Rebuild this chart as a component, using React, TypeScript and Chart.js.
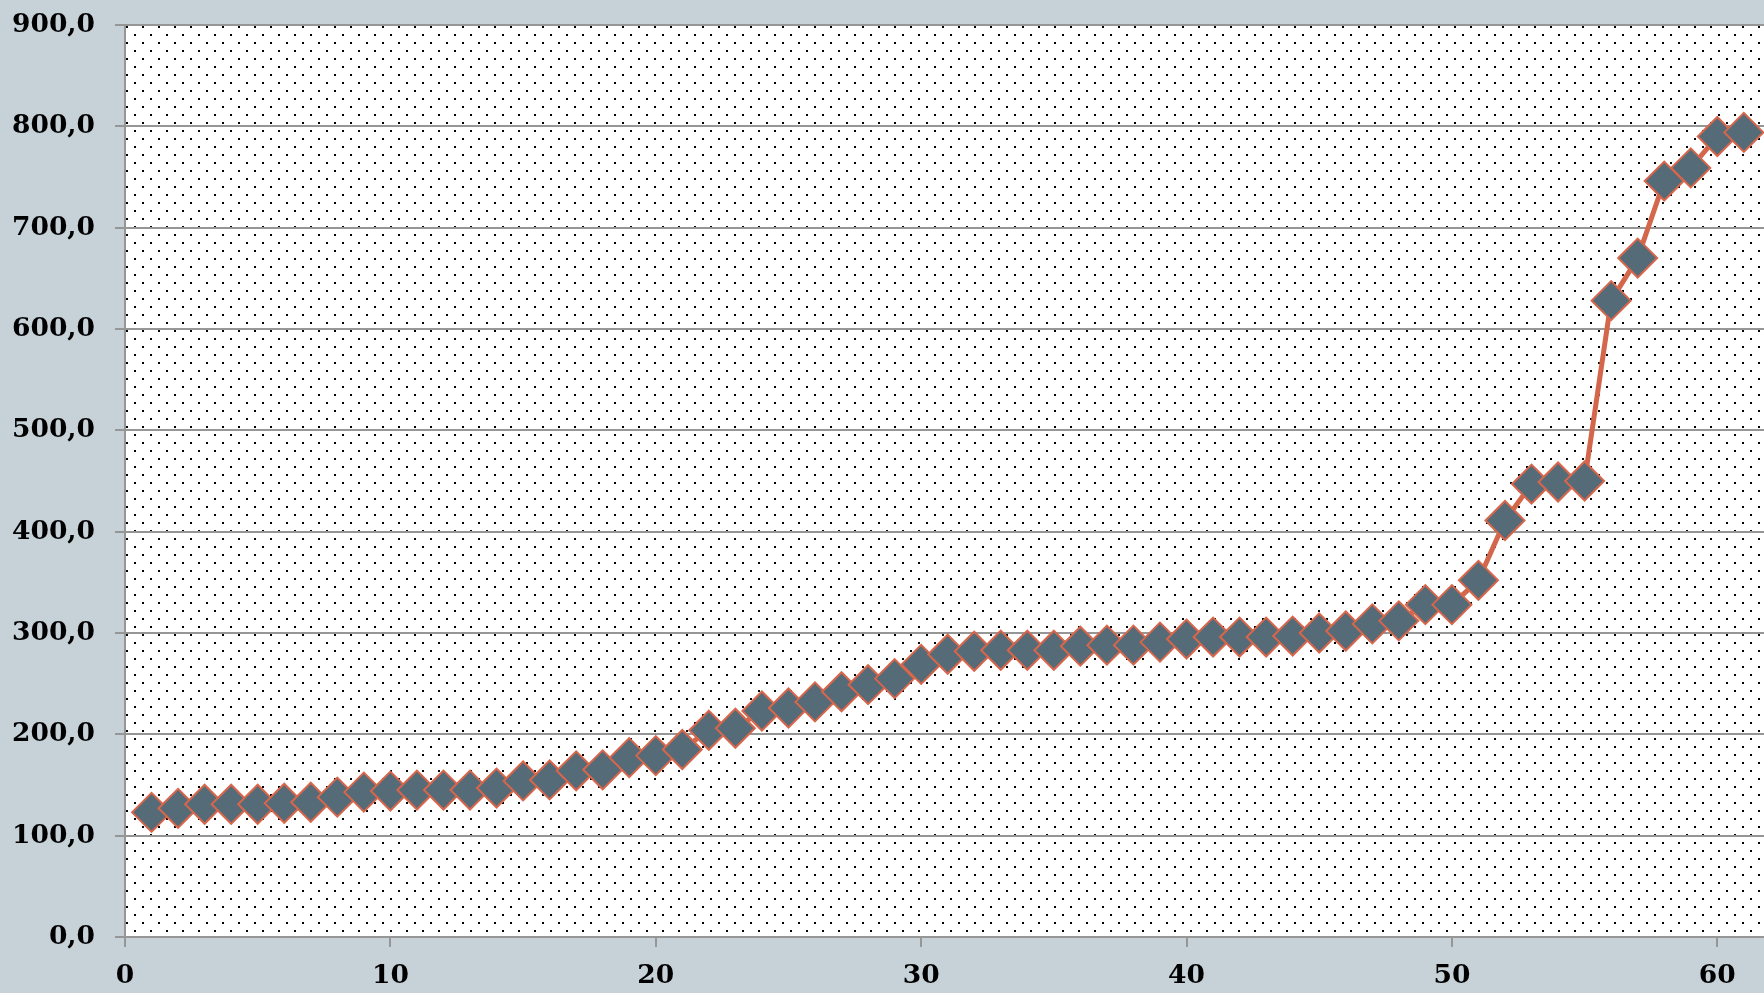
import React, { useEffect, useRef } from "react";
import { Chart, registerables } from "chart.js";

Chart.register(...registerables);

const xValues: number[] = [
  1, 2, 3, 4, 5, 6, 7, 8, 9, 10, 11, 12, 13, 14, 15, 16, 17, 18, 19, 20,
  21, 22, 23, 24, 25, 26, 27, 28, 29, 30, 31, 32, 33, 34, 35, 36, 37, 38, 39, 40,
  41, 42, 43, 44, 45, 46, 47, 48, 49, 50, 51, 52, 53, 54, 55, 56, 57, 58, 59, 60, 61,
];

const yValues: number[] = [
  123, 127, 131, 131, 131, 132, 133, 138, 143, 144, 145, 145, 145, 147, 154, 155, 164, 165, 177, 179,
  185, 204, 206, 223, 226, 232, 242, 249, 255, 269, 279, 282, 283, 283, 283, 287, 288, 288, 291, 294,
  296, 296, 296, 297, 300, 302, 309, 312, 328, 328, 352, 411, 447, 449, 450, 628, 670, 746, 759, 790, 794,
];

const xTickValues: number[] = [0, 10, 20, 30, 40, 50, 60];
const yMin = 0;
const yMax = 900;
const yStep = 100;
const xMin = 0;
const xMax = 61.76;

const BG = "#c6d1d8";
const GRID = "#969696";

function makePattern(ctx: CanvasRenderingContext2D): CanvasPattern | string {
  const c = document.createElement("canvas");
  c.width = 16;
  c.height = 16;
  const p = c.getContext("2d");
  if (!p) return "#ffffff";
  p.fillStyle = "#ffffff";
  p.fillRect(0, 0, 16, 16);
  p.fillStyle = "#000000";
  p.fillRect(6, 2, 2, 2);
  p.fillRect(14, 10, 2, 2);
  return ctx.createPattern(c, "repeat") || "#ffffff";
}

const bgPlugin = {
  id: "bgPlugin",
  beforeDraw(chart: any) {
    const { ctx, chartArea, width, height } = chart;
    ctx.save();
    ctx.fillStyle = BG;
    ctx.fillRect(0, 0, width, height);
    ctx.fillStyle = makePattern(ctx);
    ctx.fillRect(
      chartArea.left,
      chartArea.top,
      chartArea.right - chartArea.left,
      chartArea.bottom - chartArea.top
    );
    ctx.restore();
  },
};

export default function App() {
  const ref = useRef<HTMLCanvasElement | null>(null);

  useEffect(() => {
    if (!ref.current) return;
    const font = { family: "'DejaVu Serif', serif", size: 26.5, weight: "bold" as const };
    const chart = new Chart(ref.current, {
      type: "line",
      data: {
        datasets: [
          {
            data: xValues.map((x, i) => ({ x, y: yValues[i] })),
            borderColor: "#d4664b",
            borderWidth: 5,
            pointStyle: "rectRot",
            pointRadius: 19.5,
            pointBackgroundColor: "#556b78",
            pointBorderColor: "#d8664b",
            pointBorderWidth: 2,
            tension: 0,
            clip: false,
          },
        ],
      },
      options: {
        responsive: false,
        animation: false,
        layout: { autoPadding: false, padding: { top: 25, left: 0, right: 0, bottom: 0 } },
        plugins: {
          legend: { display: false },
          tooltip: { enabled: false },
        },
        scales: {
          x: {
            type: "linear",
            min: xMin,
            max: xMax,
            afterBuildTicks: (axis: any) => {
              axis.ticks = xTickValues.map((v) => ({ value: v }));
            },
            afterFit: (scale: any) => {
              scale.height = 56;
              scale.paddingLeft = 0;
              scale.paddingRight = 0;
            },
            grid: {
              drawOnChartArea: false,
              drawTicks: true,
              tickLength: 10,
              color: GRID,
              lineWidth: 2,
            },
            border: { display: true, color: GRID, width: 2 },
            ticks: {
              font,
              color: "#000000",
              padding: 13,
              maxRotation: 0,
              autoSkip: false,
              callback: (v: any) => String(v),
            },
          },
          y: {
            type: "linear",
            min: yMin,
            max: yMax,
            afterFit: (scale: any) => {
              scale.width = 125;
              scale.paddingTop = 0;
              scale.paddingBottom = 0;
            },
            grid: {
              color: GRID,
              lineWidth: 2,
              drawTicks: true,
              tickLength: 10,
            },
            border: { display: true, color: GRID, width: 2 },
            ticks: {
              stepSize: yStep,
              font,
              color: "#000000",
              padding: 20,
              callback: (v: any) => Number(v).toFixed(1).replace(".", ","),
            },
          },
        },
      },
      plugins: [bgPlugin],
    } as any);
    return () => chart.destroy();
  }, []);

  return (
    <div style={{ position: "fixed", left: 0, top: 0, width: 1764, height: 993, background: BG }}>
      <canvas ref={ref} width={1764} height={993} style={{ display: "block" }} />
    </div>
  );
}
